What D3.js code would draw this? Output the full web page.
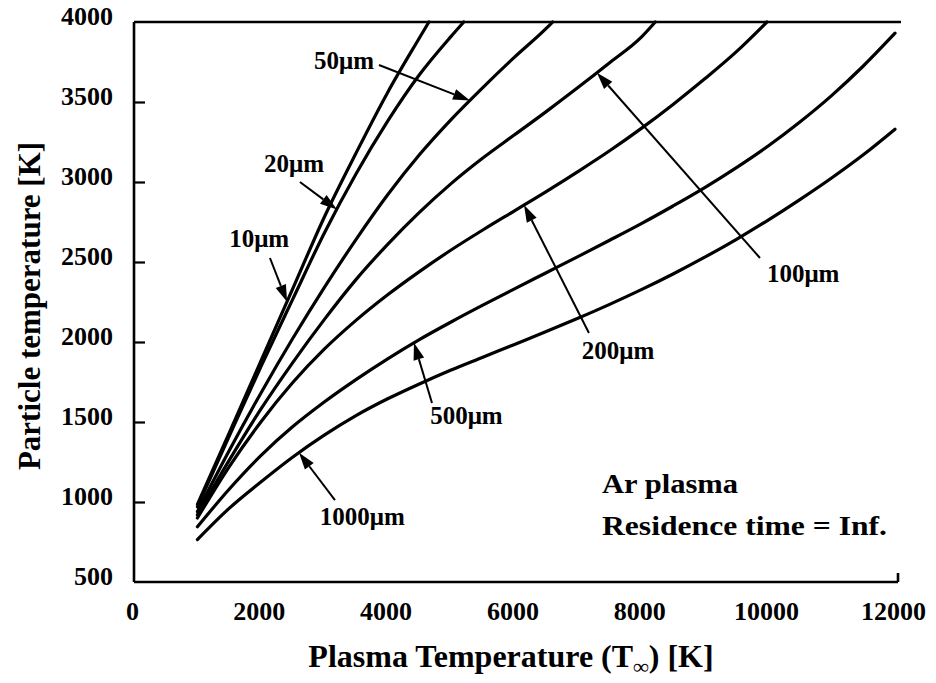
<!DOCTYPE html>
<html>
<head>
<meta charset="utf-8">
<script src="https://cdn.jsdelivr.net/npm/d3@7"></script>
<style>
  html, body { margin: 0; padding: 0; background: #fff; }
  svg { display: block; }
  text { font-family: "Liberation Serif", "Times New Roman", serif; font-weight: bold; fill: #000; }
</style>
</head>
<body>
<svg id="chart" width="936" height="683"></svg>
<script>
// Axis ticks
const xTicks = [0, 2000, 4000, 6000, 8000, 10000, 12000];
const yTicks = [500, 1000, 1500, 2000, 2500, 3000, 3500, 4000];

// Particle diameters
const sizeLabels = ["10\u03bcm", "20\u03bcm", "50\u03bcm", "100\u03bcm", "200\u03bcm", "500\u03bcm", "1000\u03bcm"];

// Plasma temperature [K] and particle temperature [K] for each diameter
const plasma10    = [1000, 1500, 2000, 2500, 3000, 3500, 4000, 4500, 4650];
const particle10  = [985, 1430, 1880, 2330, 2780, 3180, 3560, 3900, 4000];

const plasma20    = [1000, 1500, 2000, 2500, 3000, 3500, 4000, 4500, 5000, 5200];
const particle20  = [970, 1410, 1845, 2265, 2680, 3050, 3380, 3670, 3910, 4000];

const plasma50    = [1000, 1500, 2000, 2500, 3000, 3500, 4000, 4500, 5000, 5500, 6000, 6500, 6600];
const particle50  = [940, 1320, 1680, 2020, 2340, 2640, 2920, 3170, 3390, 3590, 3780, 3960, 4000];

const plasma100   = [1000, 1500, 2000, 2500, 3000, 3500, 4000, 4500, 5000, 5500, 6000, 6500, 7000, 7500, 8000, 8220];
const particle100 = [920, 1260, 1580, 1870, 2140, 2390, 2610, 2810, 2990, 3150, 3295, 3440, 3590, 3745, 3905, 4000];

const plasma200   = [1000, 1500, 2000, 2500, 3000, 3500, 4000, 4500, 5000, 5500, 6000, 6500, 7000, 7500, 8000, 8500, 9000, 9500, 9980];
const particle200 = [900, 1220, 1500, 1745, 1955, 2135, 2295, 2440, 2575, 2700, 2820, 2940, 3065, 3195, 3335, 3485, 3645, 3815, 4000];

const plasma500   = [1000, 1500, 2000, 2500, 3000, 3500, 4000, 4500, 5000, 5500, 6000, 6500, 7000, 7500, 8000, 8500, 9000, 9500, 10000, 10500, 11000, 11500, 12000];
const particle500 = [845, 1080, 1290, 1470, 1625, 1765, 1895, 2015, 2125, 2230, 2332, 2433, 2534, 2636, 2740, 2850, 2965, 3090, 3225, 3375, 3540, 3725, 3930];

const plasma1000   = [1000, 1500, 2000, 2500, 3000, 3500, 4000, 4500, 5000, 5500, 6000, 6500, 7000, 7500, 8000, 8500, 9000, 9500, 10000, 10500, 11000, 11500, 12000];
const particle1000 = [765, 960, 1125, 1280, 1418, 1540, 1645, 1738, 1825, 1905, 1985, 2065, 2148, 2235, 2327, 2425, 2530, 2642, 2762, 2890, 3025, 3170, 3330];

const plasmaSets   = [plasma10, plasma20, plasma50, plasma100, plasma200, plasma500, plasma1000];
const particleSets = [particle10, particle20, particle50, particle100, particle200, particle500, particle1000];

// Callouts: label corner, arrow tail and the plasma temperature where the arrow meets its curve (data units)
const calloutLabelX = [1500, 2050, 2840, 9980, 7060, 4670, 2930];
const calloutLabelY = [2594, 3062, 3706, 2375, 1894, 1488, 856];
const calloutTailX  = [2144, 2617, 3863, 9871, 7174, 4699, 3169];
const calloutTailY  = [2525, 3000, 3731, 2525, 2056, 1619, 1012];
const calloutTipX   = [2413, 3200, 5298, 7300, 6150, 4415, 2602];

const noteLines = ["Ar plasma", "Residence time = Inf."];
const noteWidths = [136, 285];

const svg = d3.select("#chart");
svg.append("rect").attr("width", 936).attr("height", 683).attr("fill", "#fff");

const x = d3.scaleLinear().domain([0, 12000]).range([134, 895]);
const y = d3.scaleLinear().domain([500, 4000]).range([582, 22]);

// Frame: left, top, bottom edges and a short mark at the right end of the bottom edge
const frame = svg.append("g").attr("stroke", "#000").attr("stroke-width", 2.6).attr("fill", "none");
frame.append("line").attr("x1", x(0)).attr("x2", x(0)).attr("y1", y(4000)).attr("y2", y(500));
frame.append("line").attr("x1", x(0)).attr("x2", x(12000) + 6).attr("y1", y(4000)).attr("y2", y(4000));
frame.append("line").attr("x1", x(0)).attr("x2", x(12000) + 3).attr("y1", y(500)).attr("y2", y(500));
frame.append("line").attr("x1", x(12000) + 3).attr("x2", x(12000) + 3).attr("y1", y(500)).attr("y2", y(500) - 9);

// Inward tick marks on the left axis
const tickAxis = svg.append("g")
  .attr("transform", `translate(${x(0)},0)`)
  .call(d3.axisRight(y).tickValues(yTicks.slice(1, -1)).tickSize(11).tickFormat(""));
tickAxis.select(".domain").remove();
tickAxis.selectAll("line").attr("stroke", "#000").attr("stroke-width", 2.2);

// Y tick labels
const yLab = svg.append("g")
  .attr("transform", `translate(${x(0)},0)`)
  .call(d3.axisLeft(y).tickValues(yTicks).tickSize(0).tickPadding(21).tickFormat(d3.format("d")));
yLab.select(".domain").remove();
yLab.selectAll("text").attr("font-size", 26).attr("dy", "0.1em")
  .style("font-family", "'Liberation Serif', serif").style("font-weight", "bold");

// X tick labels
const xLab = svg.append("g")
  .attr("transform", `translate(0,${y(500)})`)
  .call(d3.axisBottom(x).tickValues(xTicks).tickSize(0).tickPadding(20).tickFormat(d3.format("d")));
xLab.select(".domain").remove();
xLab.selectAll("text").attr("font-size", 26).attr("dx", "-0.08em")
  .style("font-family", "'Liberation Serif', serif").style("font-weight", "bold");

// Axis titles
const xTitle = svg.append("text").attr("x", 511).attr("y", 667).attr("text-anchor", "middle").attr("font-size", 32);
xTitle.append("tspan").text("Plasma Temperature (T");
xTitle.append("tspan").attr("dy", 7).attr("font-size", 22).text("\u221e");
xTitle.append("tspan").attr("dy", -7).text(") [K]");

svg.append("text")
  .attr("transform", "translate(40,306) rotate(-90)")
  .attr("text-anchor", "middle").attr("font-size", 31)
  .text("Particle temperature [K]");

// Curves
const line = d3.line().x(d => x(d[0])).y(d => y(d[1])).curve(d3.curveMonotoneX);
plasmaSets.forEach((px, i) => {
  const pts = px.map((v, j) => [v, particleSets[i][j]]);
  svg.append("path").attr("d", line(pts))
    .attr("fill", "none").attr("stroke", "#000").attr("stroke-width", 3.2)
    .attr("stroke-linejoin", "round").attr("stroke-linecap", "round");
});

// Value of a curve at a given plasma temperature
function curveAt(i, t) {
  const px = plasmaSets[i], py = particleSets[i];
  for (let j = 1; j < px.length; j++) {
    if (t <= px[j]) {
      const f = (t - px[j - 1]) / (px[j] - px[j - 1]);
      return py[j - 1] + f * (py[j] - py[j - 1]);
    }
  }
  return py[py.length - 1];
}

// Callout arrows and labels
sizeLabels.forEach((lab, i) => {
  const tx = x(calloutTailX[i]), ty = y(calloutTailY[i]);
  const hx = x(calloutTipX[i]), hy = y(curveAt(i, calloutTipX[i]));
  const ang = Math.atan2(hy - ty, hx - tx);
  const len = 17, half = 5.5;
  const bx = hx - len * Math.cos(ang), by = hy - len * Math.sin(ang);
  svg.append("line").attr("x1", tx).attr("y1", ty).attr("x2", bx).attr("y2", by)
    .attr("stroke", "#000").attr("stroke-width", 2);
  const p1 = [bx + half * Math.sin(ang), by - half * Math.cos(ang)];
  const p2 = [bx - half * Math.sin(ang), by + half * Math.cos(ang)];
  svg.append("path").attr("d", `M${hx},${hy}L${p1[0]},${p1[1]}L${p2[0]},${p2[1]}Z`).attr("fill", "#000");
  svg.append("text").attr("x", x(calloutLabelX[i])).attr("y", y(calloutLabelY[i]))
    .attr("font-size", 25).text(lab);
});

// Conditions note
noteLines.forEach((t, i) => {
  svg.append("text").attr("x", 602).attr("y", 493 + i * 42).attr("font-size", 28)
    .attr("textLength", noteWidths[i]).attr("lengthAdjust", "spacingAndGlyphs").text(t);
});
</script>
</body>
</html>
